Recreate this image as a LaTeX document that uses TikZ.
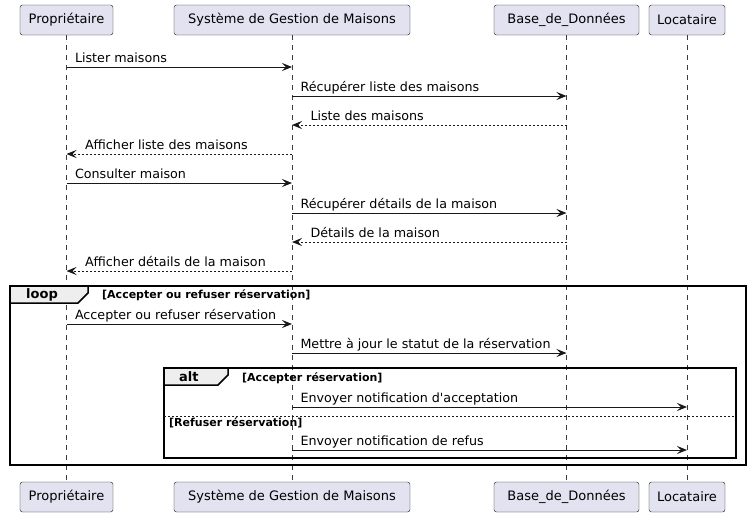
\documentclass[tikz,border=0pt]{standalone}
\usepackage{fontspec}
\setmainfont{DejaVu Sans}
\usetikzlibrary{arrows.meta,positioning}
\definecolor{partfill}{HTML}{E2E2F0}
\definecolor{umlline}{HTML}{181818}
\definecolor{tabfill}{HTML}{EEEEEE}

\begin{document}
\begin{tikzpicture}[x=1pt, y=-1pt,
  part/.style={draw=umlline, fill=partfill, rounded corners=2.5pt, minimum height=30pt,
    inner xsep=8pt, font=\fontsize{13}{15}\selectfont},
  lifeline/.style={draw=umlline!85, line width=0.5pt, dash pattern=on 5pt off 5pt},
  msg/.style={draw=umlline, line width=1pt, -{Stealth[length=10pt, width=8pt, inset=4pt]}},
  ret/.style={msg, dash pattern=on 2pt off 2pt},
  lbl/.style={anchor=base west, inner sep=0pt, yshift=4.5pt, font=\fontsize{12.7}{15}\selectfont},
  frame/.style={draw=black, line width=1.5pt},
  tab/.style={frame, fill=tabfill},
  kw/.style={anchor=base west, inner sep=0pt, font=\fontsize{13}{15}\selectfont\bfseries},
  guard/.style={anchor=base west, inner sep=0pt, font=\fontsize{11}{13}\selectfont\bfseries},
  sep/.style={draw=umlline, line width=0.7pt, dash pattern=on 2pt off 2pt}]
  \useasboundingbox (0,0) rectangle (750,517);

  % participants
  \node[part, minimum width=93pt] (proT) at (66.5,20) {Propriétaire};
  \node[part, minimum width=236pt] (sysT) at (292,20) {Système de Gestion de Maisons};
  \node[part, minimum width=145pt] (bddT) at (566.5,20) {Base\_de\_Données};
  \node[part, minimum width=76pt] (locT) at (687,20) {Locataire};
  \node[part, minimum width=93pt] (proB) at (66.5,497) {Propriétaire};
  \node[part, minimum width=236pt] (sysB) at (292,497) {Système de Gestion de Maisons};
  \node[part, minimum width=145pt] (bddB) at (566.5,497) {Base\_de\_Données};
  \node[part, minimum width=76pt] (locB) at (687,497) {Locataire};

  \draw[lifeline] (proT.south) -- (proB.north);
  \draw[lifeline] (sysT.south) -- (sysB.north);
  \draw[lifeline] (bddT.south) -- (bddB.north);
  \draw[lifeline] (locT.south) -- (locB.north);

  % messages
  \draw[msg] (proT |- 0,67) -- node[lbl, at start, xshift=8pt] {Lister maisons} (sysT |- 0,67);
  \draw[msg] (sysT |- 0,96) -- node[lbl, at start, xshift=8pt] {Récupérer liste des maisons} (bddT |- 0,96);
  \draw[ret] (bddT |- 0,125) -- node[lbl, at end, xshift=18pt] {Liste des maisons} (sysT |- 0,125);
  \draw[ret] (sysT |- 0,154) -- node[lbl, at end, xshift=18pt] {Afficher liste des maisons} (proT |- 0,154);
  \draw[msg] (proT |- 0,183) -- node[lbl, at start, xshift=8pt] {Consulter maison} (sysT |- 0,183);
  \draw[msg] (sysT |- 0,213) -- node[lbl, at start, xshift=8pt] {Récupérer détails de la maison} (bddT |- 0,213);
  \draw[ret] (bddT |- 0,242) -- node[lbl, at end, xshift=18pt] {Détails de la maison} (sysT |- 0,242);
  \draw[ret] (sysT |- 0,271) -- node[lbl, at end, xshift=18pt] {Afficher détails de la maison} (proT |- 0,271);

  % loop
  \draw[frame] (10,286) rectangle (746,465);
  \draw[tab] (10,286) -- (88,286) -- (88,293) -- (78,303) -- (10,303) -- cycle;
  \node[kw] (loopKw) at (26,298) {loop};
  \node[guard] (loopGd) at (102,298) {[Accepter ou refuser réservation]};
  \draw[msg] (proT |- 0,324) -- node[lbl, at start, xshift=8pt] {Accepter ou refuser réservation} (sysT |- 0,324);
  \draw[msg] (sysT |- 0,353) -- node[lbl, at start, xshift=8pt] {Mettre à jour le statut de la réservation} (bddT |- 0,353);

  % alt
  \draw[frame] (164,368) rectangle (736,458);
  \draw[tab] (164,368) -- (228,368) -- (228,375) -- (218,385) -- (164,385) -- cycle;
  \node[kw] (altKw) at (179,381.5) {alt};
  \node[guard] (altGd) at (242,381.5) {[Accepter réservation]};
  \draw[msg] (sysT |- 0,407) -- node[lbl, at start, xshift=8pt] {Envoyer notification d\textquotesingle acceptation} (locT |- 0,407);
  \draw[sep] (164,416) -- (736,416);
  \node[guard] (elseGd) at (169,426.5) {[Refuser réservation]};
  \draw[msg] (sysT |- 0,450) -- node[lbl, at start, xshift=8pt] {Envoyer notification de refus} (locT |- 0,450);
\end{tikzpicture}
\end{document}
